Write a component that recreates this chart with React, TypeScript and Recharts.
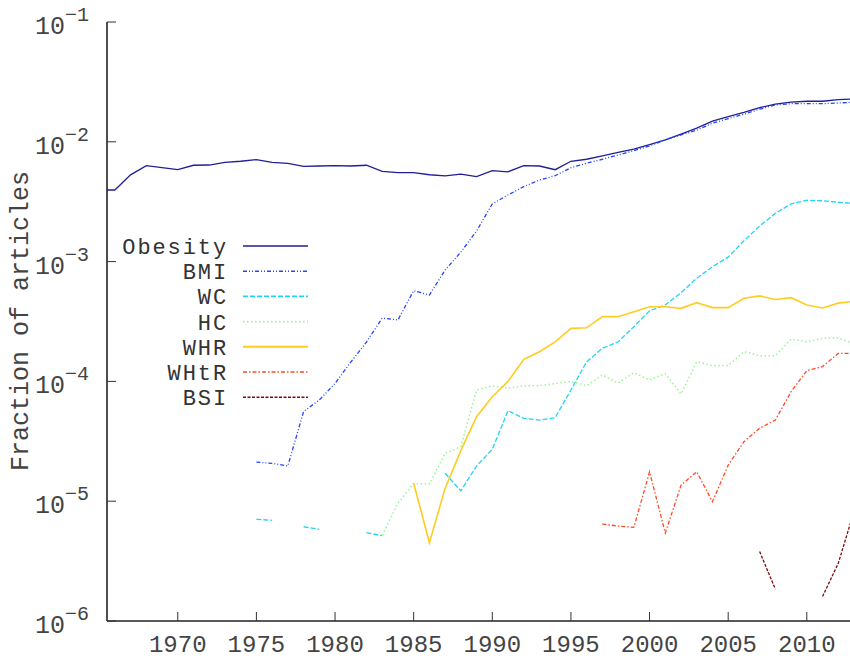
import { LineChart, Line, XAxis, YAxis, Legend } from "recharts";

// yearly fraction of articles, 1965-2013 (null = no articles that year)
const firstYear = 1965;
const lastYear = 2013;

const obesityStart = 1965;
const obesity = [
  3.96e-3, 3.96e-3, 5.3e-3, 6.32e-3, 6.08e-3, 5.85e-3, 6.37e-3, 6.4e-3, 6.74e-3, 6.88e-3,
  7.1e-3, 6.74e-3, 6.6e-3, 6.24e-3, 6.28e-3, 6.32e-3, 6.28e-3, 6.37e-3, 5.66e-3, 5.52e-3,
  5.52e-3, 5.31e-3, 5.19e-3, 5.38e-3, 5.12e-3, 5.74e-3, 5.62e-3, 6.32e-3, 6.28e-3, 5.85e-3,
  6.88e-3, 7.15e-3, 7.62e-3, 8.17e-3, 8.7e-3, 9.46e-3, 1.04e-2, 1.16e-2, 1.3e-2, 1.49e-2,
  1.62e-2, 1.76e-2, 1.93e-2, 2.06e-2, 2.14e-2, 2.18e-2, 2.18e-2, 2.25e-2, 2.28e-2,
];

const bmiStart = 1975;
const bmi = [
  2.12e-5, 2.07e-5, 1.97e-5, 5.6e-5, 7.0e-5, 9.6e-5, 1.45e-4, 2.13e-4, 3.37e-4, 3.26e-4,
  5.72e-4, 5.26e-4, 8.5e-4, 1.2e-3, 1.8e-3, 3.03e-3, 3.6e-3, 4.22e-3, 4.8e-3, 5.21e-3,
  6.08e-3, 6.62e-3, 7.15e-3, 7.76e-3, 8.43e-3, 9.23e-3, 1.04e-2, 1.14e-2, 1.25e-2, 1.43e-2,
  1.56e-2, 1.7e-2, 1.87e-2, 2.03e-2, 2.08e-2, 2.08e-2, 2.08e-2, 2.11e-2, 2.14e-2,
];

const wcStart = 1975;
const wc = [
  7.06e-6, 6.93e-6, null, 6.12e-6, 5.82e-6, null, null, 5.46e-6, 5.15e-6, null,
  null, null, 1.71e-5, 1.22e-5, 1.97e-5, 2.71e-5, 5.69e-5, 4.92e-5, 4.76e-5, 4.98e-5,
  8.47e-5, 1.46e-4, 1.89e-4, 2.14e-4, 2.86e-4, 3.89e-4, 4.34e-4, 5.5e-4, 7.25e-4, 9.07e-4,
  1.09e-3, 1.49e-3, 1.98e-3, 2.53e-3, 3.03e-3, 3.25e-3, 3.22e-3, 3.13e-3, 3.06e-3,
];

const hcStart = 1983;
const hc = [
  5.2e-6, 9.6e-6, 1.41e-5, 1.39e-5, 2.51e-5, 2.85e-5, 8.47e-5, 9.17e-5, 8.8e-5, 9.17e-5,
  9.2e-5, 9.6e-5, 1.0e-4, 9.2e-5, 1.13e-4, 9.7e-5, 1.18e-4, 1.03e-4, 1.16e-4, 7.85e-5,
  1.46e-4, 1.35e-4, 1.36e-4, 1.77e-4, 1.64e-4, 1.64e-4, 2.26e-4, 2.14e-4, 2.29e-4, 2.31e-4,
  2.05e-4,
];

const whrStart = 1985;
const whr = [
  1.41e-5, 4.5e-6, 1.28e-5, 2.64e-5, 5.08e-5, 7.45e-5, 1.0e-4, 1.53e-4, 1.77e-4, 2.14e-4,
  2.77e-4, 2.8e-4, 3.47e-4, 3.47e-4, 3.82e-4, 4.2e-4, 4.2e-4, 4.07e-4, 4.54e-4, 4.13e-4,
  4.13e-4, 4.94e-4, 5.17e-4, 4.83e-4, 5.0e-4, 4.34e-4, 4.1e-4, 4.5e-4, 4.67e-4,
];

const whtrStart = 1997;
const whtr = [
  6.45e-6, 6.2e-6, 6.05e-6, 1.76e-5, 5.43e-6, 1.36e-5, 1.76e-5, 9.9e-6, 2.0e-5, 3.14e-5,
  4.06e-5, 4.76e-5, 8.2e-5, 1.23e-4, 1.33e-4, 1.71e-4, 1.72e-4,
];

const bsiStart = 2007;
const bsi = [3.8e-6, 1.84e-6, null, null, 1.6e-6, 3.03e-6, 8.2e-6];

const xTicks = [1970, 1975, 1980, 1985, 1990, 1995, 2000, 2005, 2010];
const yTicks = [1e-6, 1e-5, 1e-4, 1e-3, 1e-2, 1e-1];
const yExponents = ["-6", "-5", "-4", "-3", "-2", "-1"];

const series = [
  { name: "Obesity", values: obesity, start: obesityStart, color: "#1f1f96", dash: undefined, width: 1.3 },
  { name: "BMI", values: bmi, start: bmiStart, color: "#2244ff", dash: "4 2 1 2 1 2", width: 1.3 },
  { name: "WC", values: wc, start: wcStart, color: "#22d4f4", dash: "5 2", width: 1.3 },
  { name: "HC", values: hc, start: hcStart, color: "#94f794", dash: "1.5 2.5", width: 1.5 },
  { name: "WHR", values: whr, start: whrStart, color: "#ffcc22", dash: undefined, width: 1.6 },
  { name: "WHtR", values: whtr, start: whtrStart, color: "#ff4a2a", dash: "4 2 1.5 2", width: 1.3 },
  { name: "BSI", values: bsi, start: bsiStart, color: "#7a0a0a", dash: "3 1.5", width: 1.3 },
];

const years: number[] = [];
for (let y = firstYear; y <= lastYear; y++) years.push(y);

const data = years.map((year) => {
  const row: Record<string, number | null> = { year };
  series.forEach((s) => {
    const v = s.values[year - s.start];
    row[s.name] = v === undefined ? null : v;
  });
  return row;
});

const FONT = "'Liberation Mono', 'DejaVu Sans Mono', monospace";
const TEXT = "#444";

const XTick = ({ x, y, payload }: any) => (
  <text x={x} y={y} textAnchor="middle" fontFamily={FONT} fontSize={24} fill={TEXT}>
    {payload.value}
  </text>
);

const YTick = ({ x, y, payload }: any) => {
  const i = yTicks.indexOf(payload.value);
  return (
    <text x={x} y={y + 12} textAnchor="end" fontFamily={FONT} fontSize={25} fill={TEXT}>
      <tspan>10</tspan>
      <tspan dy={-13} fontSize={20}>
        {"\u2212" + yExponents[i].slice(1)}
      </tspan>
    </text>
  );
};

const YTitle = () => (
  <text
    x={28}
    y={321}
    transform="rotate(-90 28 321)"
    textAnchor="middle"
    fontFamily={FONT}
    fontSize={25}
    fill={TEXT}
  >
    Fraction of articles
  </text>
);

// legend box sits at x=112, y=226 on the page; rows are tight, so a smaller
// font with a bit of letter spacing keeps the gnuplot width
const LegendBox = () => (
  <svg width={205} height={190} style={{ display: "block" }}>
    {series.map((s, i) => {
      const cy = 20 + i * 25.2;
      return (
        <g key={s.name}>
          <text
            x={116}
            y={cy + 8}
            textAnchor="end"
            fontFamily={FONT}
            fontSize={22}
            letterSpacing={1.9}
            fill="#333"
          >
            {s.name}
          </text>
          <line
            x1={131}
            x2={196}
            y1={cy}
            y2={cy}
            stroke={s.color}
            strokeWidth={s.width + 0.3}
            strokeDasharray={s.dash}
          />
        </g>
      );
    })}
  </svg>
);

export default function App() {
  return (
    <div
      style={{
        position: "absolute",
        left: 0,
        top: 0,
        width: 850,
        height: 658,
        overflow: "hidden",
        background: "#fff",
      }}
    >
      <LineChart width={854} height={658} data={data} margin={{ top: 22, right: 0, bottom: 0, left: 0 }}>
        <XAxis
          dataKey="year"
          type="number"
          domain={[1965.5, 2013]}
          allowDataOverflow
          ticks={xTicks}
          height={37}
          tickSize={-9}
          tickMargin={40}
          tick={<XTick />}
          stroke="#222"
          strokeWidth={1.6}
          tickLine={{ stroke: "#333", strokeWidth: 1 }}
        />
        <XAxis
          xAxisId="top"
          orientation="top"
          dataKey="year"
          type="number"
          domain={[1965.5, 2013]}
          allowDataOverflow
          ticks={xTicks}
          height={0}
          tickSize={-9}
          tick={false}
          stroke="#222"
          strokeWidth={1.6}
          tickLine={{ stroke: "#333", strokeWidth: 1 }}
        />
        <YAxis
          type="number"
          scale="log"
          domain={[1e-6, 1e-1]}
          allowDataOverflow
          ticks={yTicks}
          width={107}
          tickSize={-9}
          tickMargin={27}
          tick={<YTick />}
          stroke="#222"
          strokeWidth={1.6}
          tickLine={{ stroke: "#333", strokeWidth: 1 }}
          label={<YTitle />}
        />
        <Legend
          layout="horizontal"
          verticalAlign="middle"
          align="center"
          wrapperStyle={{ left: 112, top: 226, width: 205, height: 190 }}
          content={<LegendBox />}
        />
        {series.map((s) => (
          <Line
            key={s.name}
            type="linear"
            dataKey={s.name}
            stroke={s.color}
            strokeWidth={s.width}
            strokeDasharray={s.dash}
            dot={false}
            activeDot={false}
            connectNulls={false}
            isAnimationActive={false}
          />
        ))}
      </LineChart>
    </div>
  );
}
